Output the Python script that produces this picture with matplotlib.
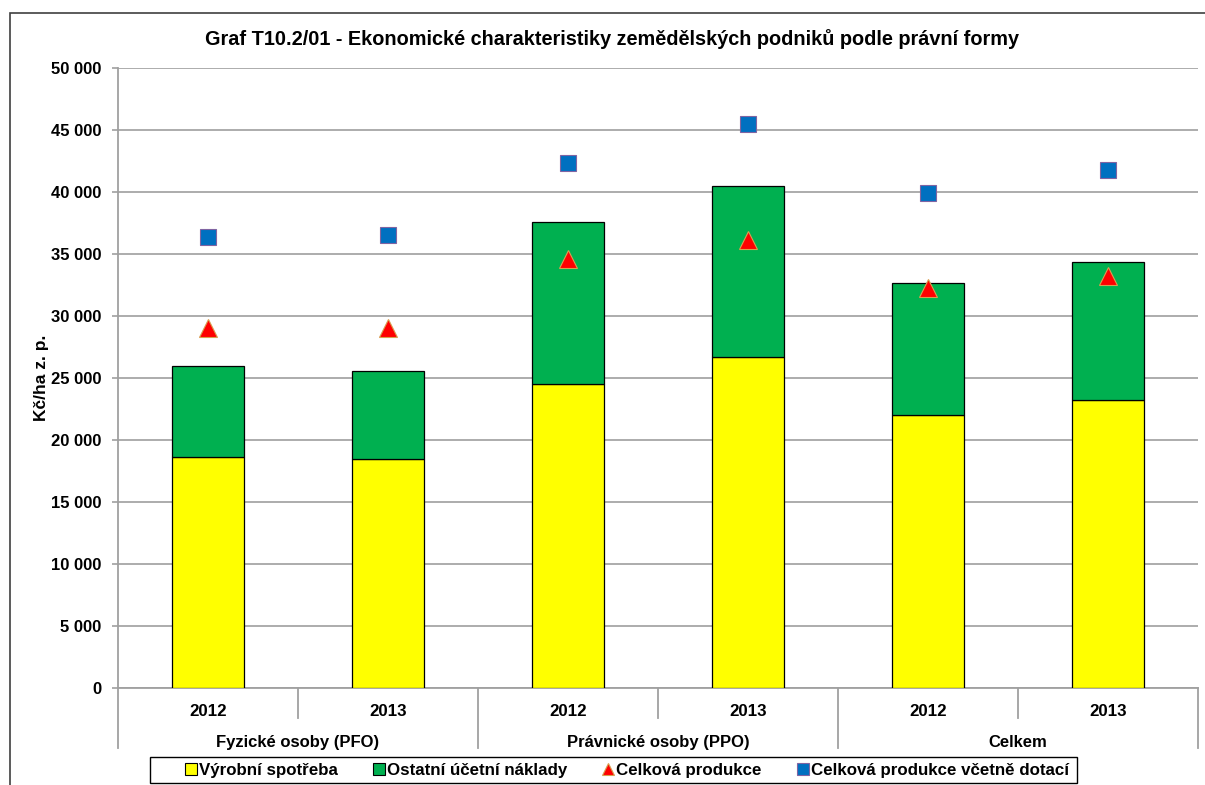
import matplotlib
matplotlib.use("Agg")
import matplotlib.pyplot as plt
from matplotlib.lines import Line2D
from matplotlib.patches import Rectangle
from matplotlib.ticker import FuncFormatter

plt.rcParams['font.family'] = ['Liberation Sans', 'DejaVu Sans']

groups = ["Fyzické osoby (PFO)", "Právnické osoby (PPO)", "Celkem"]
years = ["2012", "2013", "2012", "2013", "2012", "2013"]
vyrobni_spotreba = [18600, 18450, 24550, 26700, 22050, 23250]
ostatni_naklady = [7350, 7150, 13000, 13750, 10650, 11100]
celkova_produkce = [29000, 29000, 34600, 36150, 32250, 33250]
produkce_s_dotacemi = [36400, 36550, 42350, 45500, 39900, 41800]

fig = plt.figure(figsize=(12.05, 7.85), dpi=100)
ax = fig.add_axes([118/1205, 1-688/785, 1080/1205, 620/785])

x = list(range(len(years)))
ax.bar(x, vyrobni_spotreba, width=0.4, color="#FFFF00", edgecolor="black", linewidth=0.9, zorder=3)
ax.bar(x, ostatni_naklady, width=0.4, bottom=vyrobni_spotreba, color="#00B050",
       edgecolor="black", linewidth=0.9, zorder=3)
ax.plot(x, celkova_produkce, linestyle="none", marker="^", markersize=13,
        markerfacecolor="#FF0000", markeredgecolor="#D8A050", markeredgewidth=0.8, zorder=4)
ax.plot(x, produkce_s_dotacemi, linestyle="none", marker="s", markersize=11,
        markerfacecolor="#0070C0", markeredgecolor="#8064A2", markeredgewidth=0.8, zorder=4)

ax.set_xlim(-0.5, len(years) - 0.5)
ax.set_ylim(0, 50000)
ax.set_yticks(range(0, 50001, 5000))
ax.yaxis.set_major_formatter(FuncFormatter(lambda v, p: f"{int(v):,}".replace(",", " ")))
for lab in ax.get_yticklabels():
    lab.set_fontweight("bold")
ax.tick_params(axis="y", labelsize=12, length=4, color="#A0A0A0", width=1.2, pad=8)
ax.grid(axis="y", color="#A6A6A6", linewidth=1.3, zorder=0)
ax.set_xticks([])
for s in ["top", "right"]:
    ax.spines[s].set_visible(False)
ax.spines["left"].set_color("#A0A0A0")
ax.spines["left"].set_linewidth(1.3)
ax.spines["bottom"].set_color("#A0A0A0")
ax.spines["bottom"].set_linewidth(1.3)
ax.set_ylabel("Kč/ha z. p.", fontsize=12.5, fontweight="bold", labelpad=1)

trans = ax.get_xaxis_transform()
for i, y in enumerate(years):
    ax.text(i, -0.038, y, transform=trans, ha="center", va="center", fontsize=12.2, fontweight="bold")
for g, name in enumerate(groups):
    ax.text(2*g + 0.5, -0.088, name, transform=trans, ha="center", va="center", fontsize=12, fontweight="bold")
for b in [0.5, 2.5, 4.5]:
    ax.add_line(Line2D([b, b], [0, -0.048], transform=trans, color="#A0A0A0", linewidth=1.3, clip_on=False))
for b in [-0.5, 1.5, 3.5, 5.5]:
    ax.add_line(Line2D([b, b], [0, -0.097], transform=trans, color="#A0A0A0", linewidth=1.3, clip_on=False))

fig.text(612/1205, 1-39/785, "Graf T10.2/01 - Ekonomické charakteristiky zemědělských podniků podle právní formy",
         ha="center", va="center", fontsize=14.3, fontweight="bold")

fig.add_artist(Rectangle((10/1205, -0.01), 1.0, 1-13/785+0.01, transform=fig.transFigure,
                         fill=False, edgecolor="#404040", linewidth=1.2))

# legend frame
fig.add_artist(Rectangle((150/1205, 1-783/785), 927/1205, 26/785, transform=fig.transFigure,
                         fill=True, facecolor="white", edgecolor="black", linewidth=1.0, zorder=5))

handles = [
    Line2D([], [], linestyle="none", marker="s", markersize=8, markerfacecolor="#FFFF00", markeredgecolor="black", markeredgewidth=0.8),
    Line2D([], [], linestyle="none", marker="s", markersize=8, markerfacecolor="#00B050", markeredgecolor="black", markeredgewidth=0.8),
    Line2D([], [], linestyle="none", marker="^", markersize=9, markerfacecolor="#FF0000", markeredgecolor="#D8A050", markeredgewidth=0.8),
    Line2D([], [], linestyle="none", marker="s", markersize=8, markerfacecolor="#0070C0", markeredgecolor="#8064A2", markeredgewidth=0.8),
]
labels = ["Výrobní spotřeba", "Ostatní účetní náklady", "Celková produkce", "Celková produkce včetně dotací"]
leg = fig.legend(handles, labels, loc="center", bbox_to_anchor=(626/1205, 1-770/785), ncol=4,
                 prop={"size": 12.2, "weight": "bold"}, frameon=False,
                 handletextpad=0.05, columnspacing=1.95, handlelength=0.9,
                 borderpad=0.25, borderaxespad=0)
leg.set_zorder(6)

fig.savefig("out.png", dpi=100)
